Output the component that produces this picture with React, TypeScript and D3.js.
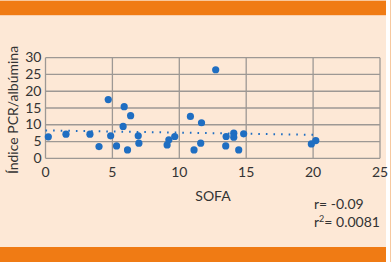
import React from "react";
import * as d3 from "d3";

const sofa = [0.21, 1.53, 3.32, 4.0, 4.69, 4.87, 5.31, 5.8, 5.88, 6.13, 6.36, 6.93, 6.98, 12.72, 10.83, 11.66, 9.09, 9.22, 9.66, 11.1, 11.6, 13.47, 13.5, 14.07, 14.07, 14.44, 14.81, 19.87, 20.2];
const ratio = [6.4, 7.2, 7.2, 3.5, 17.5, 6.7, 3.7, 9.5, 15.4, 2.5, 12.7, 6.7, 4.5, 26.4, 12.5, 10.6, 4.0, 5.5, 6.5, 2.5, 4.5, 3.7, 6.5, 7.5, 6.3, 2.5, 7.3, 4.3, 5.3];
const trendX = [0, 20.2];
const trendY = [8.3, 7.0];
const xTicks = [0, 5, 10, 15, 20, 25];
const yTicks = [0, 5, 10, 15, 20, 25, 30];
const yLabel = "Índice PCR/albúmina";
const xLabel = "SOFA";
const statR = "r= -0.09";

export default function App() {
  const W = 391, H = 262;
  const x = d3.scaleLinear().domain([0, 25]).range([45.5, 380]);
  const y = d3.scaleLinear().domain([0, 30]).range([158.3, 57.7]);
  const font = "Lato, 'Open Sans', sans-serif";
  const grid = "#9d9894";
  const blue = "#1f6ec2";
  const line = d3.line<number>().x((d) => x(trendX[d])).y((d) => y(trendY[d]));
  return (
    <svg width={W} height={H} style={{ position: "absolute", left: 0, top: 0 }}>
      <rect x={0} y={0} width={W} height={H} fill="#ffffff" />
      <rect x={0} y={0} width={386} height={H} fill="#fde8d6" />
      <rect x={0} y={0.7} width={386} height={14.5} fill="#f07b14" />
      <rect x={0} y={247} width={386} height={15} fill="#f07b14" />
      <rect x={390} y={0} width={1} height={H} fill="#f7c9a0" />
      {yTicks.map((t) => (
        <line key={"h" + t} x1={x(0)} x2={x(25)} y1={y(t)} y2={y(t)} stroke={grid} strokeWidth={1.3} />
      ))}
      {xTicks.map((t) => (
        <line key={"v" + t} x1={x(t)} x2={x(t)} y1={y(0)} y2={y(30)} stroke={grid} strokeWidth={1.3} />
      ))}
      <path d={line([0, 1]) || ""} fill="none" stroke={blue} strokeWidth={2} strokeDasharray="1.6 6" strokeLinecap="butt" />
      {sofa.map((s, i) => (
        <circle key={i} cx={x(s)} cy={y(ratio[i])} r={3.6} fill={blue} />
      ))}
      {yTicks.map((t) => (
        <text key={"yt" + t} x={41.5} y={y(t) + 4.5} textAnchor="end" fontFamily={font} fontSize={14} fill="#333">
          {t}
        </text>
      ))}
      {xTicks.map((t) => (
        <text key={"xt" + t} x={x(t)} y={177} textAnchor="middle" fontFamily={font} fontSize={14} fill="#333">
          {t}
        </text>
      ))}
      <text transform="translate(18,110) rotate(-90)" textAnchor="middle" fontFamily={font} fontSize={14} fill="#333">
        {yLabel}
      </text>
      <text x={213} y={201} textAnchor="middle" fontFamily={font} fontSize={14} fill="#333">
        {xLabel}
      </text>
      <text x={314} y={209} fontFamily={font} fontSize={14} fill="#333">
        {statR}
      </text>
      <text x={314} y={226.7} fontFamily={font} fontSize={14} fill="#333">
        r<tspan dy={-5} fontSize={9}>2</tspan>
        <tspan dy={5}>= 0.0081</tspan>
      </text>
    </svg>
  );
}
